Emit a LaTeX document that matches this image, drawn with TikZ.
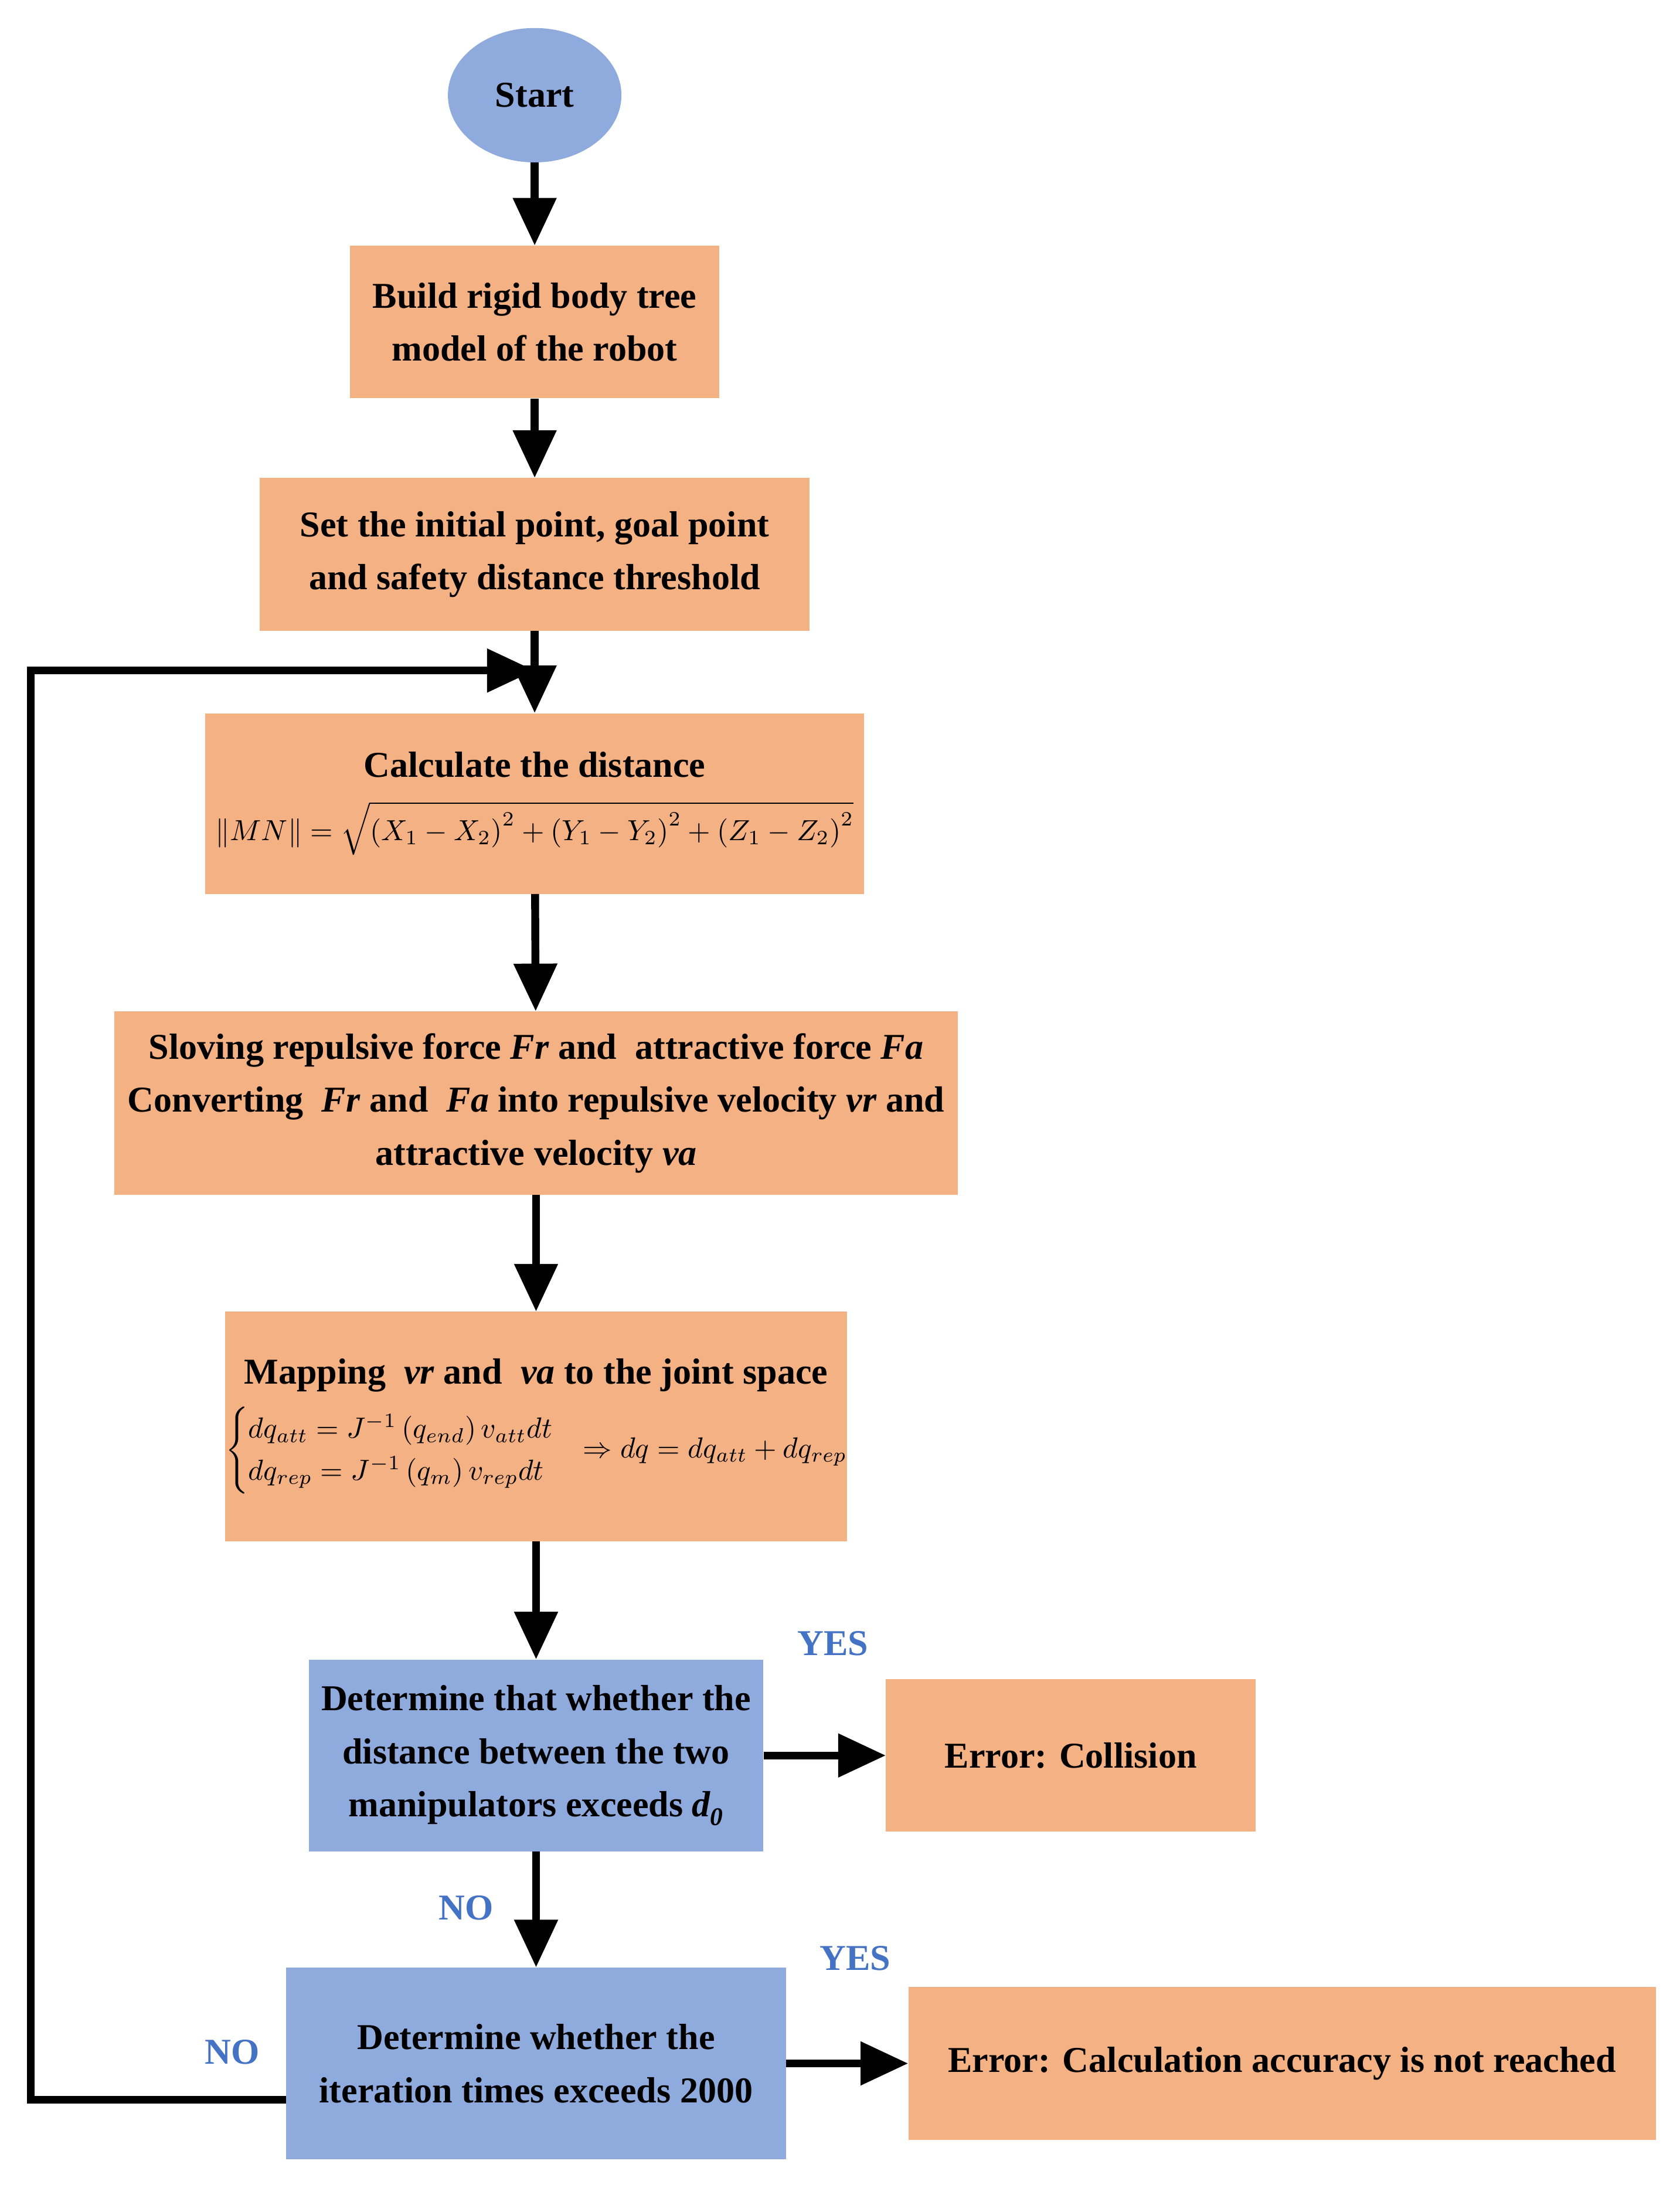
\documentclass[tikz,border=0pt]{standalone}
\usepackage{amsmath}
\usepackage{graphicx}
\usepackage{fontspec}
\setmainfont{Liberation Serif}
\usetikzlibrary{arrows.meta,shapes.geometric}
\definecolor{orng}{HTML}{F4B183}
\definecolor{blu}{HTML}{8FAADC}
\definecolor{lbl}{HTML}{4472C4}
\newcommand{\bigmath}[1]{\scalebox{2.95}{\fontsize{10}{12}\selectfont\mdseries$#1$}}
\begin{document}
\begin{tikzpicture}[x=0.05cm,y=-0.05cm,
  every node/.style={font=\fontsize{37}{54}\selectfont\bfseries, align=center, inner sep=0pt},
  box/.style={rectangle, fill=orng},
  bbox/.style={rectangle, fill=blu},
  arr/.style={line width=8pt, -{Triangle[length=1.7cm,width=1.5cm]}},
  lab/.style={text=lbl}]
\useasboundingbox (0,0) rectangle (1200,1563);
\node[ellipse, fill=blu, minimum width=6.2cm, minimum height=4.8cm] (s) at (382,68) {Start};
\node[box, minimum width=13.2cm, minimum height=5.45cm] (b1) at (382,230) {Build rigid body tree\\model of the robot};
\node[box, minimum width=19.65cm, minimum height=5.45cm] (b2) at (382,396) {Set the initial point, goal point\\and safety distance threshold};
\node[box, minimum width=23.55cm, minimum height=6.45cm] (b3) at (382,574) {Calculate the distance\\[10pt]
 \bigmath{\left\|MN\right\|=\sqrt{\left(X_1-X_2\right)^2+\left(Y_1-Y_2\right)^2+\left(Z_1-Z_2\right)^2}}};
\node[box, minimum width=30.15cm, minimum height=6.55cm] (b4) at (383,788) {Sloving repulsive force \textit{Fr} and\ \ attractive force \textit{Fa}\\Converting\ \ \textit{Fr} and\ \ \textit{Fa} into repulsive velocity \textit{vr} and\\attractive velocity \textit{va}};
\node[box, minimum width=22.05cm, minimum height=8.2cm] (b5) at (383,1019) {Mapping\ \ \textit{vr} and\ \ \textit{va} to the joint space\\[14pt]
 \bigmath{\begin{cases} dq_{att}=J^{-1}\left(q_{end}\right)v_{att}dt\\ dq_{rep}=J^{-1}\left(q_{m}\right)v_{rep}dt\end{cases}\!\!\Rightarrow dq=dq_{att}+dq_{rep}}};
\node[bbox, minimum width=16.25cm, minimum height=6.85cm] (b6) at (383,1254) {Determine that whether the\\distance between the two\\manipulators exceeds \textit{d\textsubscript{0}}};
\node[box, minimum width=13.2cm, minimum height=5.45cm] (e1) at (765,1254) {Error: Collision};
\node[bbox, minimum width=17.85cm, minimum height=6.85cm] (b7) at (383,1474) {Determine whether the\\iteration times exceeds 2000};
\node[box, minimum width=26.7cm, minimum height=5.45cm] (e2) at (916,1474) {Error: Calculation accuracy is not reached};
\coordinate (lp) at (382,479);
\draw[arr] (s) -- (b1);
\draw[arr] (b1) -- (b2);
\draw[arr] (b2) -- (b3);
\draw[arr] (b3) -- (b4);
\draw[arr] (b4) -- (b5);
\draw[arr] (b5) -- (b6);
\draw[arr] (b6) -- (e1);
\draw[arr] (b6) -- (b7);
\draw[arr] (b7) -- (e2);
\draw[arr] (b7.west |- 0,1500) -- (22,1500) -- (22,479) -- (lp);
\node[lab] at (595,1174) {YES};
\node[lab] at (333,1363) {NO};
\node[lab] at (611,1399) {YES};
\node[lab] at (166,1466) {NO};
\end{tikzpicture}
\end{document}
